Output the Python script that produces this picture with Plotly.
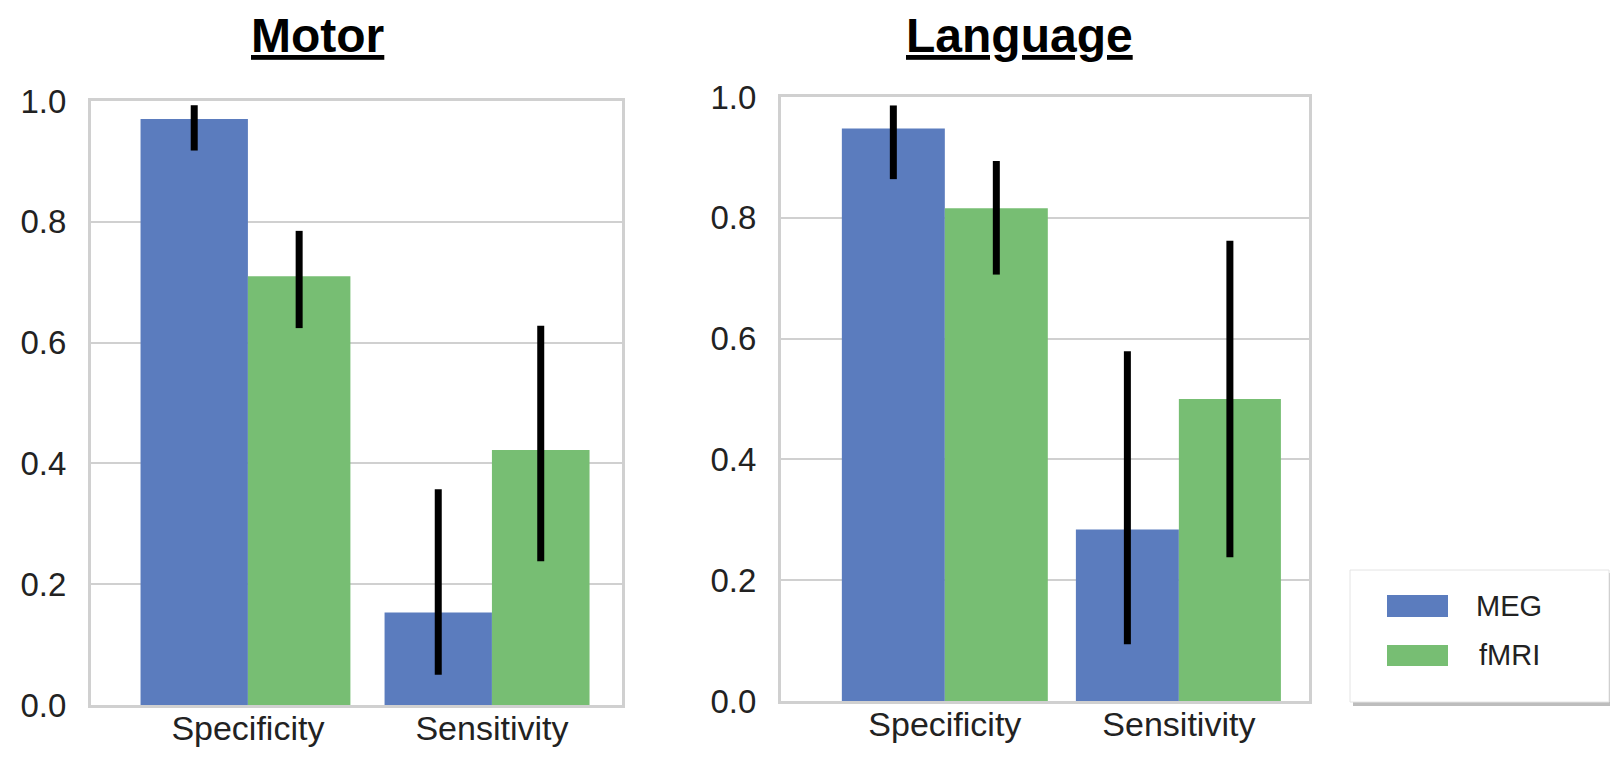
import plotly.graph_objects as go

# ---- data ----
categories = ["Specificity", "Sensitivity"]
panels = ["Motor", "Language"]
series = ["MEG", "fMRI"]

motor_meg = [0.970, 0.153]
motor_meg_lo = [0.918, 0.050]
motor_meg_hi = [0.993, 0.357]
motor_fmri = [0.710, 0.422]
motor_fmri_lo = [0.624, 0.238]
motor_fmri_hi = [0.785, 0.628]

lang_meg = [0.948, 0.284]
lang_meg_lo = [0.864, 0.094]
lang_meg_hi = [0.986, 0.579]
lang_fmri = [0.816, 0.500]
lang_fmri_lo = [0.706, 0.238]
lang_fmri_hi = [0.894, 0.762]

yticks = [0.0, 0.2, 0.4, 0.6, 0.8, 1.0]
ytick_text = ["0.0", "0.2", "0.4", "0.6", "0.8", "1.0"]

# ---- style ----
PAGE_OFF = 8          # default body margin of the html page
W, H = 1618 - 2 * PAGE_OFF, 757 - 2 * PAGE_OFF
BLUE = "#5b7cbe"
GREEN = "#77be73"
GRID = "#d0d0d0"
TXT = "#222222"
FONT = "Liberation Sans, Arial, sans-serif"

def px_x(p):
    return (p - PAGE_OFF) / W

def px_y(p):
    return 1 - (p - PAGE_OFF) / H

fig = go.Figure()

def add_panel(xa, ya, meg, meg_lo, meg_hi, fmri, fmri_lo, fmri_hi, fmri_w):
    xs = list(range(len(categories)))
    fig.add_trace(go.Bar(
        x=xs, y=meg, name=series[0], marker=dict(color=BLUE, line=dict(width=0)),
        width=0.44, offset=-0.44, xaxis=xa, yaxis=ya, showlegend=False,
        error_y=dict(type="data", symmetric=False,
                     array=[h - v for h, v in zip(meg_hi, meg)],
                     arrayminus=[v - l for l, v in zip(meg_lo, meg)],
                     color="black", thickness=7, width=0),
    ))
    fig.add_trace(go.Bar(
        x=xs, y=fmri, name=series[1], marker=dict(color=GREEN, line=dict(width=0)),
        width=fmri_w, offset=0, xaxis=xa, yaxis=ya, showlegend=False,
        error_y=dict(type="data", symmetric=False,
                     array=[h - v for h, v in zip(fmri_hi, fmri)],
                     arrayminus=[v - l for l, v in zip(fmri_lo, fmri)],
                     color="black", thickness=7, width=0),
    ))

add_panel("x", "y", motor_meg, motor_meg_lo, motor_meg_hi,
          motor_fmri, motor_fmri_lo, motor_fmri_hi, [0.42, 0.40])
add_panel("x2", "y2", lang_meg, lang_meg_lo, lang_meg_hi,
          lang_fmri, lang_fmri_lo, lang_fmri_hi, [0.44, 0.436])

axis_common = dict(showline=True, linecolor=GRID, linewidth=3, mirror=True,
                   zeroline=False, automargin=False, layer="below traces")

xa_common = dict(axis_common, showgrid=False, tickvals=[0, 1], ticktext=categories,
                 tickfont=dict(family=FONT, size=34, color=TXT), ticks="",
                 ticklabelstandoff=-9)
ya_common = dict(axis_common, showgrid=True, gridcolor=GRID, gridwidth=2,
                 range=[0, 1.0], tickvals=yticks, ticktext=ytick_text,
                 tickfont=dict(family=FONT, size=33, color=TXT), ticks="",
                 ticklabelstandoff=15)

fig.update_layout(
    width=W, height=H,
    margin=dict(l=0, r=0, t=0, b=0),
    paper_bgcolor="white", plot_bgcolor="white",
    showlegend=False,
    barmode="overlay",
    xaxis=dict(xa_common, domain=[px_x(91), px_x(622)], range=[-0.643, 1.533], anchor="y"),
    yaxis=dict(ya_common, domain=[px_y(705), px_y(101)], anchor="x"),
    xaxis2=dict(xa_common, domain=[px_x(781), px_x(1309)], range=[-0.70, 1.556], anchor="y2"),
    yaxis2=dict(ya_common, domain=[px_y(701), px_y(97)], anchor="x2"),
)

# titles
for name, cx in zip(panels, [317, 1019]):
    fig.add_annotation(
        text=f"<b>{name}</b>", x=px_x(cx), y=1.0, xref="paper", yref="paper",
        xanchor="center", yanchor="top", showarrow=False, borderpad=0,
        font=dict(family=FONT, size=48, color="black", lineposition="under"),
    )

# legend (box, shadow, swatches, labels)
fig.add_shape(type="rect", xref="paper", yref="paper",
              x0=px_x(1353), x1=px_x(1610), y0=px_y(706), y1=px_y(573),
              fillcolor="#bdbdbd", line=dict(width=0), layer="above")
fig.add_shape(type="rect", xref="paper", yref="paper",
              x0=px_x(1350), x1=px_x(1609), y0=px_y(702), y1=px_y(570),
              fillcolor="white", line=dict(color="#e4e4e4", width=1), layer="above")
swatches = [(BLUE, 595, 617, 606), (GREEN, 645, 666, 655)]
for (col, y0, y1, yc), label in zip(swatches, series):
    fig.add_shape(type="rect", xref="paper", yref="paper",
                  x0=px_x(1387), x1=px_x(1448), y0=px_y(y1), y1=px_y(y0),
                  fillcolor=col, line=dict(width=0), layer="above")
    fig.add_annotation(text=label, x=px_x(1509), y=px_y(yc), xref="paper", yref="paper",
                       xanchor="center", yanchor="middle", showarrow=False,
                       font=dict(family=FONT, size=29, color=TXT))

fig.write_html("out.html")
